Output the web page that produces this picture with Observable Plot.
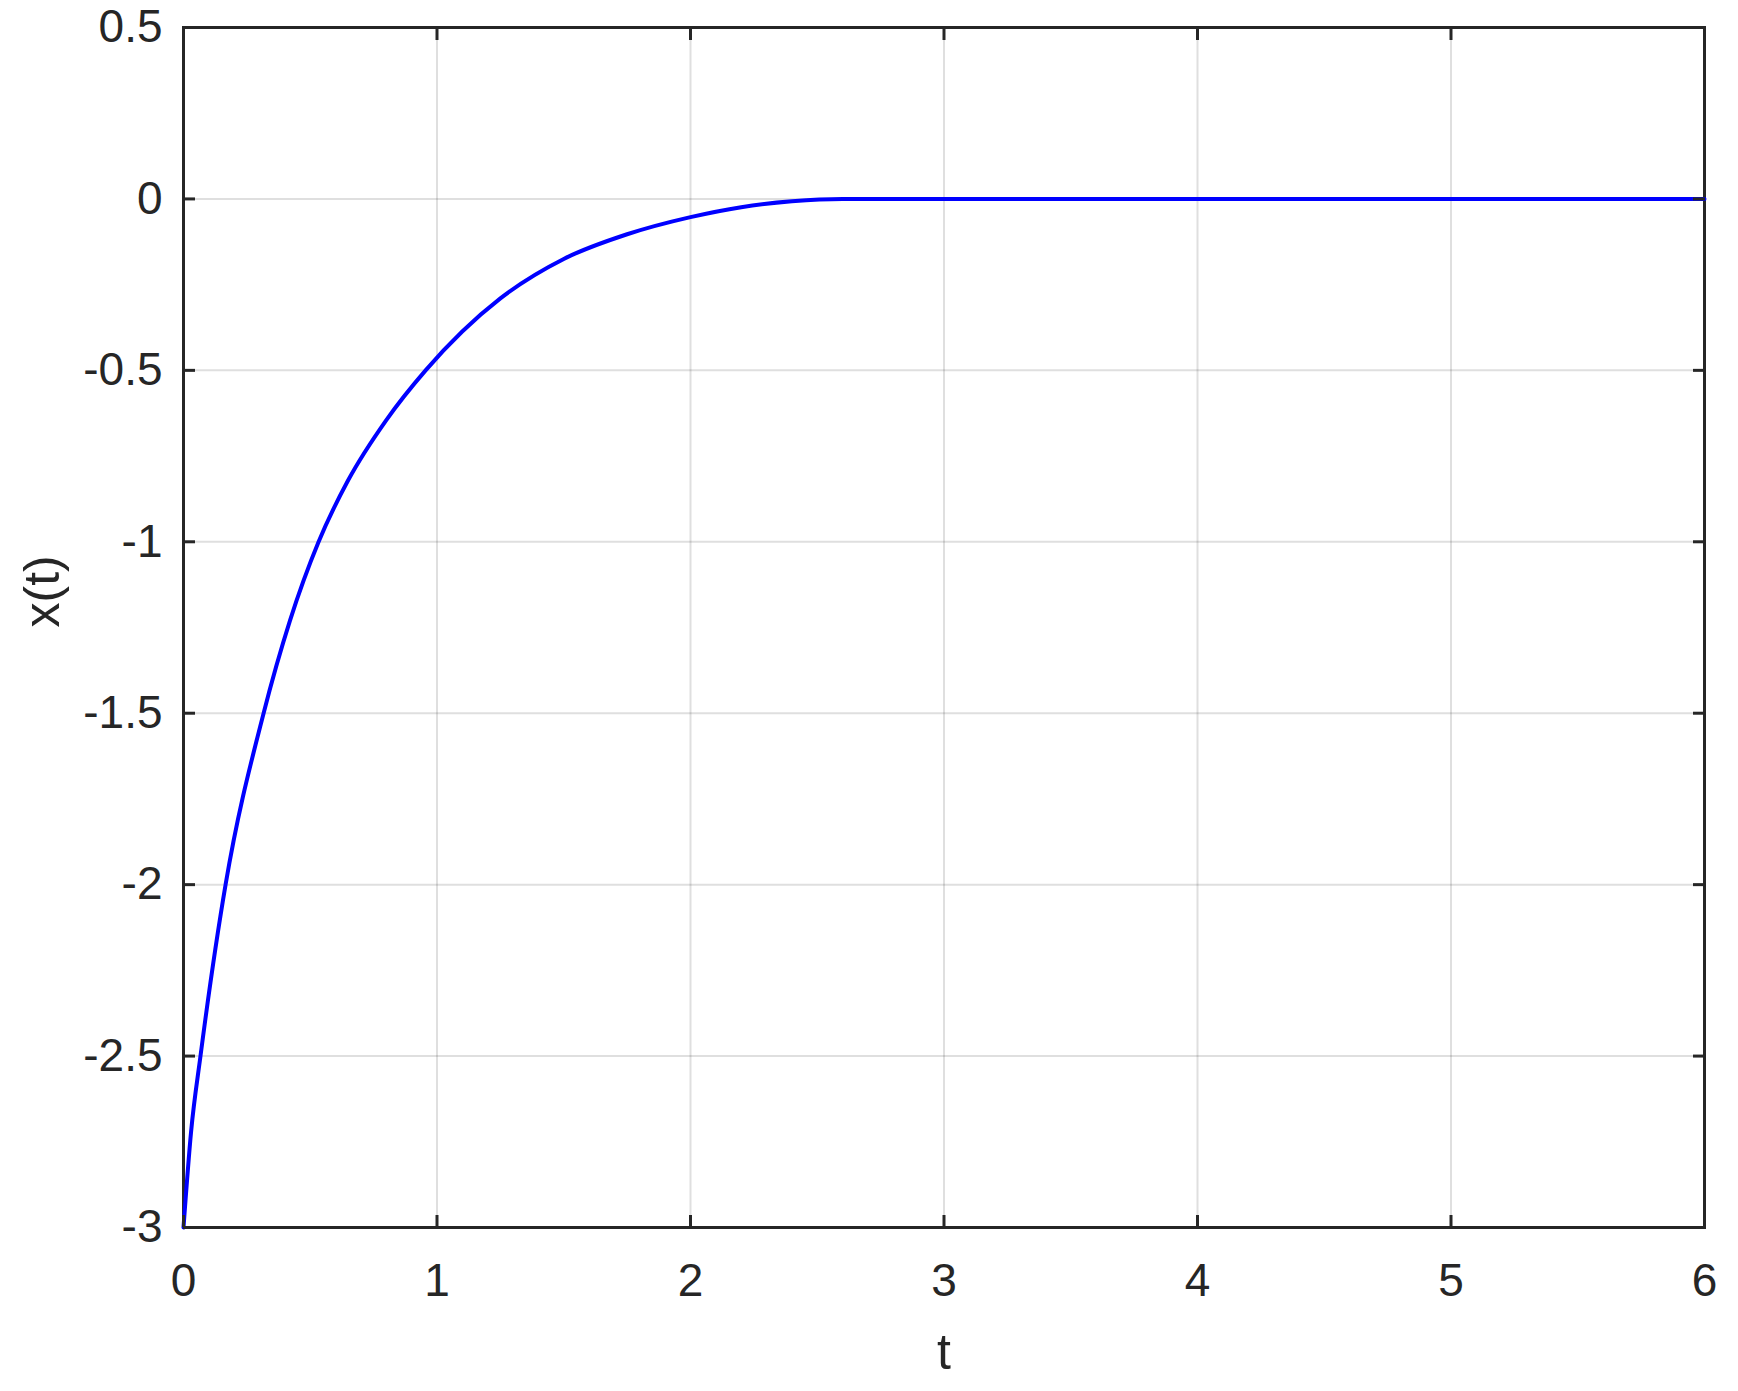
<!DOCTYPE html>
<html>
<head>
<meta charset="utf-8">
<script src="https://cdn.jsdelivr.net/npm/d3@7"></script>
<script src="https://cdn.jsdelivr.net/npm/@observablehq/plot@0.6"></script>
<style>
  html, body { margin: 0; padding: 0; background: #fff; }
</style>
</head>
<body>
<div id="chart"></div>
<script>
// Time samples and the plotted response x(t)
const tValues = [0, 0.03, 0.067, 0.166, 0.316, 0.42, 0.533, 0.65, 0.8, 0.955, 1.25, 1.5, 1.75, 2.0, 2.2, 2.4, 2.6, 3, 4, 5, 6];
const xValues = [-3, -2.72, -2.5, -2.0, -1.5, -1.23, -1.0, -0.82, -0.645, -0.5, -0.29, -0.175, -0.103, -0.053, -0.024, -0.007, 0, 0, 0, 0, 0];

const xTicks = [0, 1, 2, 3, 4, 5, 6];
const yTicks = [-3, -2.5, -2, -1.5, -1, -0.5, 0, 0.5];
const xLabel = "t";
const yLabel = "x(t)";

const data = tValues.map((t, i) => ({t, x: xValues[i]}));
const ink = "#262626";
const fmt = d => String(d);

const chart = Plot.plot({
  width: 1738,
  height: 1391,
  marginLeft: 183,
  marginRight: 34,
  marginTop: 27,
  marginBottom: 164,
  style: {fontFamily: "'Liberation Sans', Arial, sans-serif", fontSize: "46px", color: ink, background: "#fff"},
  x: {domain: [0, 6]},
  y: {domain: [-3, 0.5]},
  marks: [
    Plot.gridX(xTicks, {stroke: ink, strokeOpacity: 0.15, strokeWidth: 2}),
    Plot.gridY(yTicks, {stroke: ink, strokeOpacity: 0.15, strokeWidth: 2}),
    Plot.frame({stroke: ink, strokeWidth: 3}),
    Plot.line(data, {x: "t", y: "x", stroke: "#0000ff", strokeWidth: 4, curve: "monotone-x"}),
    Plot.axisX(xTicks, {anchor: "bottom", tickSize: 0, tickPadding: 36, tickFormat: fmt, fill: ink, label: null, fontSize: 46}),
    Plot.axisX(xTicks, {anchor: "bottom", tickSize: -12, text: null, stroke: ink, strokeWidth: 3, label: null}),
    Plot.axisX(xTicks, {anchor: "top", tickSize: -12, text: null, stroke: ink, strokeWidth: 3, label: null}),
    Plot.axisY(yTicks, {anchor: "left", tickSize: 0, tickPadding: 21, tickFormat: fmt, fill: ink, label: null, fontSize: 46}),
    Plot.axisY(yTicks, {anchor: "left", tickSize: -12, text: null, stroke: ink, strokeWidth: 3, label: null}),
    Plot.axisY(yTicks, {anchor: "right", tickSize: -12, text: null, stroke: ink, strokeWidth: 3, label: null}),
    Plot.text([xLabel], {text: d => d, frameAnchor: "bottom", dy: 125, lineAnchor: "middle", fontSize: 50, fill: ink}),
    Plot.text([yLabel], {text: d => d, frameAnchor: "left", dx: -141, rotate: -90, lineAnchor: "middle", fontSize: 50, fill: ink})
  ]
});
document.getElementById("chart").appendChild(chart);
</script>
</body>
</html>
